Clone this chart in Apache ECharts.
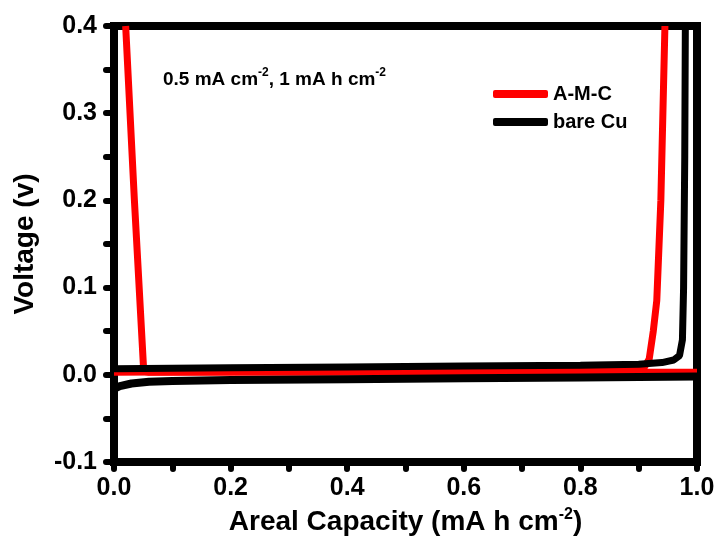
<!DOCTYPE html>
<html><head><meta charset="utf-8">
<script src="https://cdn.jsdelivr.net/npm/echarts@6/dist/echarts.min.js"></script>
<style>html,body{margin:0;padding:0;background:#fff}#c{width:721px;height:541px}</style>
</head><body><div id="c"></div>
<script>
// A-M-C (red): plating and stripping curves [capacity, voltage]
const amcPlating = [[0.020,0.40],[0.035,0.20],[0.051,0.004],[0.06,0.003],[0.3,0.003],[0.6,0.003],[0.9,0.003],[1.0,0.003]];
const amcStripping = [[0.0,0.003],[0.3,0.004],[0.6,0.005],[0.85,0.006],[0.91,0.009],[0.918,0.018],[0.925,0.05],[0.931,0.085],[0.938,0.2],[0.945,0.40]];
// bare Cu (black)
const cuPlating = [[0.0,-0.016],[0.01,-0.013],[0.03,-0.010],[0.06,-0.008],[0.1,-0.007],[0.2,-0.006],[0.4,-0.005],[0.6,-0.004],[0.8,-0.003],[1.0,-0.002]];
const cuStripping = [[0.0,0.40],[0.0,0.007],[0.2,0.008],[0.4,0.009],[0.6,0.010],[0.8,0.011],[0.9,0.012],[0.94,0.014],[0.96,0.017],[0.97,0.022],[0.975,0.04],[0.977,0.1],[0.979,0.25],[0.98,0.40]];
const xTicks = {min:0, max:1, step:0.2};
const yTicks = {min:-0.1, max:0.4, step:0.1};
const seriesNames = ['A-M-C','bare Cu'];
const colors = ['#ff0000','#000000'];

const font = '"Liberation Sans", Arial, sans-serif';
const chart = echarts.init(document.getElementById('c'));
const tickStyle = {color:'#000', width:6, cap:'round'};
chart.setOption({
  animation:false,
  backgroundColor:'#fff',
  textStyle:{fontFamily:font},
  grid:{left:114, right:24, top:26, bottom:79, show:true, borderColor:'#000', borderWidth:8, backgroundColor:'transparent'},
  legend:{
    data:seriesNames, orient:'vertical', left:488, top:79, itemWidth:55, itemHeight:8, itemGap:8,
    icon:'roundRect',
    textStyle:{fontFamily:font, fontWeight:'bold', fontSize:20, color:'#000'}
  },
  graphic:[{
    type:'text', left:163, top:67,
    style:{
      text:'{n|0.5 mA cm}{s|-2}{n|, 1 mA h cm}{s|-2}',
      rich:{
        n:{fontFamily:font, fontWeight:'bold', fontSize:19, fill:'#000', verticalAlign:'bottom', lineHeight:22},
        s:{fontFamily:font, fontWeight:'bold', fontSize:12, fill:'#000', verticalAlign:'top', lineHeight:22, padding:[0,0,10,0]}
      }
    }
  }],
  xAxis:{
    type:'value', min:xTicks.min, max:xTicks.max, interval:xTicks.step,
    axisLine:{show:false, onZero:false},
    splitLine:{show:false},
    axisTick:{show:true, length:7, inside:false, lineStyle:tickStyle},
    minorTick:{show:true, splitNumber:2, length:7, lineStyle:tickStyle},
    axisLabel:{margin:14, fontFamily:font, fontWeight:'bold', fontSize:25, color:'#000',
      formatter:v=>v.toFixed(1)},
    name:'Areal Capacity (mA h cm{s|-2})', nameLocation:'middle', nameGap:45,
    nameTextStyle:{fontFamily:font, fontWeight:'bold', fontSize:28, color:'#000',
      rich:{s:{fontFamily:font, fontWeight:'bold', fontSize:16, color:'#000', verticalAlign:'top', padding:[0,0,14,0]}}}
  },
  yAxis:{
    type:'value', min:yTicks.min, max:yTicks.max, interval:yTicks.step,
    axisLine:{show:false, onZero:false},
    splitLine:{show:false},
    axisTick:{show:true, length:8, inside:false, lineStyle:tickStyle},
    minorTick:{show:true, splitNumber:2, length:8, lineStyle:tickStyle},
    axisLabel:{margin:17, fontFamily:font, fontWeight:'bold', fontSize:25, color:'#000',
      formatter:v=>v.toFixed(1)},
    name:'Voltage (v)', nameLocation:'middle', nameGap:75, nameRotate:90,
    nameTextStyle:{fontFamily:font, fontWeight:'bold', fontSize:28, color:'#000'}
  },
  series:[
    {name:seriesNames[0], type:'line', data:amcPlating, showSymbol:false, symbol:'none', clip:true,
      lineStyle:{color:colors[0], width:7}, itemStyle:{color:colors[0]}, z:2},
    {name:seriesNames[0], type:'line', data:amcStripping, showSymbol:false, symbol:'none', clip:true,
      lineStyle:{color:colors[0], width:7}, itemStyle:{color:colors[0]}, z:2},
    {name:seriesNames[1], type:'line', data:cuPlating, showSymbol:false, symbol:'none', clip:true,
      lineStyle:{color:colors[1], width:8}, itemStyle:{color:colors[1]}, z:3},
    {name:seriesNames[1], type:'line', data:cuStripping, showSymbol:false, symbol:'none', clip:true,
      lineStyle:{color:colors[1], width:7}, itemStyle:{color:colors[1]}, z:3}
  ]
});
</script></body></html>
